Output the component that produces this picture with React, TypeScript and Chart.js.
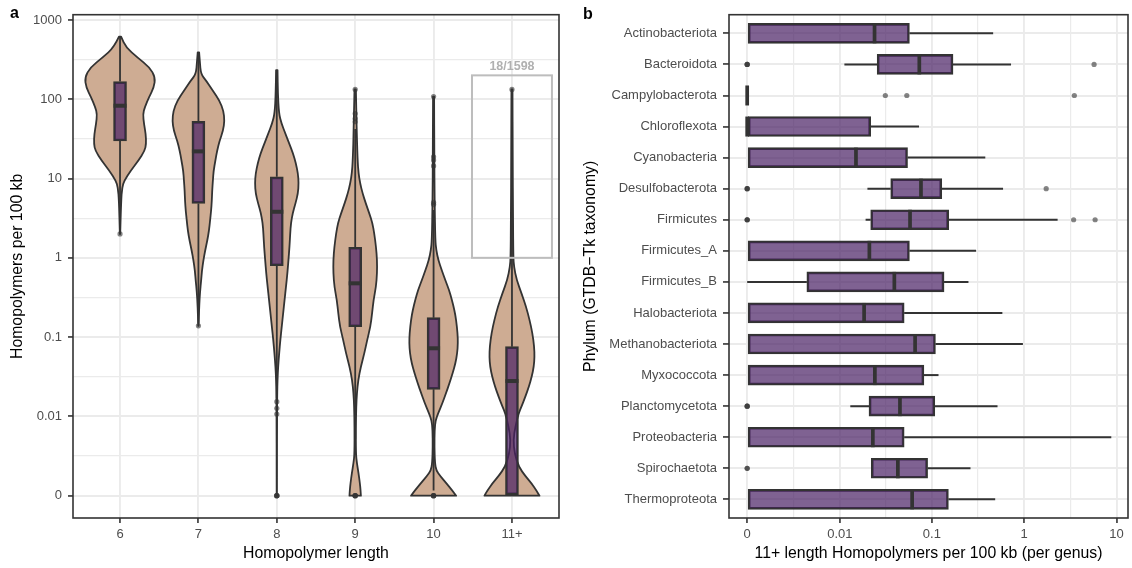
import React, { useEffect, useRef } from 'react';
import { Chart, registerables } from 'chart.js';

Chart.register(...registerables);

const FONT = "'Liberation Sans', Arial, Helvetica, sans-serif";

// ---------------- Panel a : homopolymer counts per length ----------------
const lengthCategories = ['6', '7', '8', '9', '10', '11+'];
const countTickValues = [0, 0.01, 0.1, 1, 10, 100, 1000];
const countTickLabels = ['0', '0.01', '0.1', '1', '10', '100', '1000'];

const boxQ1 = [29.7, 4.86, 0.795, 0.135, 0.0219, 0];
const boxMedian = [82.8, 22.0, 3.81, 0.477, 0.0723, 0.0279];
const boxQ3 = [167, 52.6, 10.5, 1.36, 0.176, 0.0757];
const whiskerLow = [2.3, 0.15, 0.017, 0.005, 0.0003, 0];
const whiskerHigh = [614, 390, 233, 42, 4.0, 45];
const lengthOutliers = [
  [2.0],
  [0.139],
  [0.0153, 0.0126, 0.0106, 0, 0, 0, 0],
  [52, 57, 66, 133, 0, 0, 0, 0],
  [4.7, 5.0, 14.4, 17.1, 18.8, 108, 0, 0, 0, 0],
  [133],
];

// violin profiles: [value, relative density]
const violin6 = [[614, 0.03], [451, 0.17], [337, 0.49], [252, 0.84], [189, 1.0], [141, 0.96], [106, 0.82], [79, 0.7], [65, 0.65], [48.6, 0.68], [36.4, 0.73], [27.2, 0.74], [22.4, 0.7], [16.8, 0.52], [12.5, 0.3], [9.4, 0.12], [7.7, 0.06], [5.2, 0.03], [2.0, 0.005]];
const violin7 = [[390, 0.02], [300, 0.04], [208, 0.07], [171, 0.22], [128, 0.41], [95.7, 0.6], [71.6, 0.71], [53.6, 0.74], [40.1, 0.7], [30, 0.6], [22.4, 0.53], [16.8, 0.48], [12.5, 0.43], [9.4, 0.41], [7.0, 0.39], [5.25, 0.38], [3.93, 0.36], [2.94, 0.33], [2.2, 0.3], [1.64, 0.25], [1.23, 0.19], [0.92, 0.14], [0.69, 0.1], [0.51, 0.076], [0.385, 0.048], [0.238, 0.02], [0.139, 0.005]];
const violin8 = [[233, 0.02], [119, 0.03], [66.4, 0.06], [49.7, 0.13], [37.2, 0.24], [27.8, 0.35], [20.8, 0.46], [15.6, 0.54], [11.6, 0.6], [8.7, 0.62], [6.5, 0.6], [4.86, 0.53], [3.64, 0.45], [2.72, 0.4], [2.04, 0.38], [1.38, 0.36], [0.94, 0.33], [0.637, 0.3], [0.432, 0.26], [0.294, 0.22], [0.2, 0.18], [0.135, 0.14], [0.0919, 0.1], [0.0625, 0.067], [0.0424, 0.038], [0.0288, 0.02], [0.0195, 0.011], [0.0073, 0.006], [0.0025, 0.005], [0, 0.004]];
const violin9 = [[133, 0.02], [45, 0.04], [17.1, 0.067], [11.6, 0.095], [8.7, 0.14], [6.5, 0.21], [4.86, 0.3], [3.64, 0.4], [2.72, 0.49], [2.04, 0.54], [1.38, 0.59], [0.94, 0.62], [0.637, 0.62], [0.432, 0.59], [0.294, 0.52], [0.2, 0.48], [0.135, 0.43], [0.0919, 0.34], [0.0625, 0.26], [0.0424, 0.16], [0.0288, 0.086], [0.0195, 0.048], [0.0132, 0.029], [0.0073, 0.019], [0.0031, 0.019], [0.0022, 0.048], [0.0014, 0.095], [0.00074, 0.133], [0.00033, 0.152], [0, 0.162]];
const violin10 = [[108, 0.015], [20, 0.02], [5, 0.03], [1.67, 0.048], [1.25, 0.076], [0.94, 0.133], [0.7, 0.23], [0.525, 0.33], [0.393, 0.44], [0.294, 0.52], [0.22, 0.59], [0.164, 0.64], [0.112, 0.68], [0.0836, 0.69], [0.0625, 0.67], [0.0468, 0.62], [0.035, 0.54], [0.0261, 0.45], [0.0195, 0.35], [0.0146, 0.25], [0.0109, 0.133], [0.0089, 0.057], [0.0066, 0.029], [0.0039, 0.024], [0.0022, 0.038], [0.0016, 0.076], [0.0012, 0.19], [0.00074, 0.36], [0.00033, 0.52], [0, 0.64]];
const violin11 = [[133, 0.015], [20, 0.02], [3, 0.03], [1.03, 0.038], [0.773, 0.057], [0.525, 0.133], [0.357, 0.27], [0.242, 0.4], [0.164, 0.5], [0.112, 0.58], [0.0757, 0.63], [0.0566, 0.64], [0.0424, 0.62], [0.0316, 0.56], [0.0237, 0.48], [0.0177, 0.38], [0.0132, 0.27], [0.0109, 0.19], [0.0073, 0.095], [0.0048, 0.038], [0.0031, 0.076], [0.0019, 0.19], [0.0012, 0.38], [0.00074, 0.55], [0.00033, 0.69], [0, 0.78]];
const violinProfiles = [violin6, violin7, violin8, violin9, violin10, violin11];

const highlightRange = [1, 200];
const highlightLabel = '18/1598';

// ---------------- Panel b : 11+ homopolymers per phylum ----------------
const phyla = ['Actinobacteriota', 'Bacteroidota', 'Campylobacterota', 'Chloroflexota', 'Cyanobacteria', 'Desulfobacterota', 'Firmicutes', 'Firmicutes_A', 'Firmicutes_B', 'Halobacteriota', 'Methanobacteriota', 'Myxococcota', 'Planctomycetota', 'Proteobacteria', 'Spirochaetota', 'Thermoproteota'];
const phylumLow = [0, 0.0112, 0, 0, 0, 0.02, 0.0191, 0, 0, 0, 0, 0, 0.013, 0, 0.022, 0];
const phylumQ1 = [0, 0.0255, 0, 0, 0, 0.0358, 0.0217, 0, 0.0042, 0, 0, 0, 0.0208, 0, 0.022, 0];
const phylumMedian = [0.0239, 0.0731, 0, 0, 0.015, 0.0762, 0.058, 0.021, 0.0392, 0.0184, 0.0658, 0.0241, 0.0451, 0.0229, 0.0428, 0.0611];
const phylumQ3 = [0.0571, 0.1694, 0, 0.0217, 0.0545, 0.128, 0.152, 0.0571, 0.1355, 0.0501, 0.1093, 0.082, 0.1076, 0.0501, 0.0899, 0.151];
const phylumHigh = [0.461, 0.72, 0, 0.0726, 0.379, 0.59, 2.3, 0.301, 0.249, 0.58, 0.968, 0.118, 0.514, 8.77, 0.262, 0.485];
const phylumOutliers = [
  [], [0, 0, 0, 5.71], [0.0313, 0.0535, 3.49], [], [], [0, 0, 0, 1.73], [0, 0, 0, 3.43, 5.86], [], [], [], [], [], [0, 0, 0], [], [0, 0], [],
];
const rateTickValues = [0, 0.01, 0.1, 1, 10];
const rateTickLabels = ['0', '0.01', '0.1', '1', '10'];

// ---------------- helpers ----------------
const T = (v: number) => Math.asinh(v / 0.002) / Math.LN10; // pseudo-log10 transform

const GRID = '#EBEBEB';
const DARK = '#333333';
const VIOLIN_FILL = '#CEAC93';
const BOX_FILL = 'rgba(72,32,100,0.7)';
const POINT = 'rgba(51,51,51,0.6)';

function buildTicks(values: number[], labels: string[]) {
  const tv = values.map(T);
  const ticks: { value: number; major: boolean; label: string }[] = [];
  tv.forEach((t, i) => {
    ticks.push({ value: t, major: true, label: labels[i] });
    if (i < tv.length - 1) ticks.push({ value: (t + tv[i + 1]) / 2, major: false, label: '' });
  });
  return ticks;
}

function smoothSide(ctx: CanvasRenderingContext2D, pts: number[][], first: boolean) {
  if (first) ctx.moveTo(pts[0][0], pts[0][1]);
  else ctx.lineTo(pts[0][0], pts[0][1]);
  for (let i = 1; i < pts.length - 1; i++) {
    const mx = (pts[i][0] + pts[i + 1][0]) / 2;
    const my = (pts[i][1] + pts[i + 1][1]) / 2;
    ctx.quadraticCurveTo(pts[i][0], pts[i][1], mx, my);
  }
  const l = pts[pts.length - 1];
  ctx.lineTo(l[0], l[1]);
}

const tickFont = { family: FONT, size: 13 };
const titleFont = { family: FONT, size: 15.8 };

function gridOpts(majorW: number, minorW: number, tickLength = 5) {
  return {
    offset: false,
    color: GRID,
    lineWidth: (c: any) => (c.tick && c.tick.major === false ? minorW : majorW),
    tickColor: (c: any) => (c.tick && c.tick.major === false ? 'rgba(0,0,0,0)' : DARK),
    tickWidth: 1.6,
    tickLength,
    drawTicks: true,
  };
}

const panelAPlugin = {
  id: 'panelA',
  beforeDatasetsDraw(chart: any) {
    const { ctx, scales } = chart;
    const x = scales.x, y = scales.y;
    const unit = x.getPixelForValue(2) - x.getPixelForValue(1);
    ctx.save();
    violinProfiles.forEach((prof, i) => {
      const cx = x.getPixelForValue(i + 1);
      const pts = prof.map(([v, d]) => [d * 0.45 * unit, y.getPixelForValue(T(v))]);
      ctx.beginPath();
      smoothSide(ctx, pts.map(([w, py]) => [cx - w, py]), true);
      smoothSide(ctx, pts.slice().reverse().map(([w, py]) => [cx + w, py]), false);
      ctx.closePath();
      ctx.fillStyle = VIOLIN_FILL;
      ctx.fill();
      ctx.lineWidth = 1.8;
      ctx.lineJoin = 'round';
      ctx.strokeStyle = DARK;
      ctx.stroke();
    });
    ctx.lineWidth = 1.8;
    ctx.strokeStyle = DARK;
    lengthCategories.forEach((_, i) => {
      const cx = x.getPixelForValue(i + 1);
      ctx.beginPath();
      ctx.moveTo(cx, y.getPixelForValue(T(whiskerHigh[i])));
      ctx.lineTo(cx, y.getPixelForValue(T(boxQ3[i])));
      ctx.moveTo(cx, y.getPixelForValue(T(boxQ1[i])));
      ctx.lineTo(cx, y.getPixelForValue(T(whiskerLow[i])));
      ctx.stroke();
    });
    ctx.restore();
  },
  afterDatasetsDraw(chart: any) {
    const { ctx, scales, chartArea } = chart;
    const x = scales.x, y = scales.y;
    ctx.save();
    ctx.strokeStyle = DARK;
    ctx.lineWidth = 4;
    lengthCategories.forEach((_, i) => {
      const cx = x.getPixelForValue(i + 1);
      const my = y.getPixelForValue(T(boxMedian[i]));
      ctx.beginPath();
      ctx.moveTo(cx - 6.5, my);
      ctx.lineTo(cx + 6.5, my);
      ctx.stroke();
    });
    // highlight box
    const last = lengthCategories.length;
    const x0 = x.getPixelForValue(last - 0.51);
    const x1 = x.getPixelForValue(last + 0.51);
    const y0 = y.getPixelForValue(T(highlightRange[1]));
    const y1 = y.getPixelForValue(T(highlightRange[0]));
    ctx.strokeStyle = '#BDBDBD';
    ctx.lineWidth = 2;
    ctx.strokeRect(x0, y0, x1 - x0, y1 - y0);
    ctx.fillStyle = '#B0B0B0';
    ctx.font = `bold 12.5px ${FONT}`;
    ctx.textAlign = 'center';
    ctx.textBaseline = 'bottom';
    ctx.fillText(highlightLabel, x.getPixelForValue(last), y0 - 3);
    // panel border
    ctx.strokeStyle = DARK;
    ctx.lineWidth = 1.6;
    ctx.strokeRect(chartArea.left, chartArea.top, chartArea.right - chartArea.left, chartArea.bottom - chartArea.top);
    ctx.fillStyle = '#000';
    ctx.font = `bold 16px ${FONT}`;
    ctx.textAlign = 'left';
    ctx.textBaseline = 'alphabetic';
    ctx.fillText('a', 10, 18);
    ctx.restore();
  },
};

const panelBPlugin = {
  id: 'panelB',
  beforeDatasetsDraw(chart: any) {
    const { ctx, scales } = chart;
    const x = scales.x, y = scales.y;
    ctx.save();
    ctx.strokeStyle = DARK;
    ctx.lineWidth = 2;
    phyla.forEach((_, i) => {
      const cy = y.getPixelForValue(i);
      ctx.beginPath();
      ctx.moveTo(x.getPixelForValue(T(phylumLow[i])), cy);
      ctx.lineTo(x.getPixelForValue(T(phylumQ1[i])), cy);
      ctx.moveTo(x.getPixelForValue(T(phylumQ3[i])), cy);
      ctx.lineTo(x.getPixelForValue(T(phylumHigh[i])), cy);
      ctx.stroke();
    });
    ctx.restore();
  },
  afterDatasetsDraw(chart: any) {
    const { ctx, scales, chartArea } = chart;
    const x = scales.x, y = scales.y;
    ctx.save();
    ctx.strokeStyle = DARK;
    ctx.lineWidth = 3.7;
    phyla.forEach((_, i) => {
      const cy = y.getPixelForValue(i);
      const mx = x.getPixelForValue(T(phylumMedian[i]));
      ctx.beginPath();
      ctx.moveTo(mx, cy - 10);
      ctx.lineTo(mx, cy + 10);
      ctx.stroke();
    });
    ctx.strokeStyle = DARK;
    ctx.lineWidth = 1.6;
    ctx.strokeRect(chartArea.left, chartArea.top, chartArea.right - chartArea.left, chartArea.bottom - chartArea.top);
    ctx.fillStyle = '#000';
    ctx.font = `bold 16px ${FONT}`;
    ctx.textAlign = 'left';
    ctx.textBaseline = 'alphabetic';
    ctx.fillText('b', 17, 19);
    ctx.restore();
  },
};

export default function App() {
  const leftRef = useRef<HTMLCanvasElement>(null);
  const rightRef = useRef<HTMLCanvasElement>(null);

  useEffect(() => {
    const countTicks = buildTicks(countTickValues, countTickLabels);
    const rateTicks = buildTicks(rateTickValues, rateTickLabels);

    const outA: { x: number; y: number }[] = [];
    lengthOutliers.forEach((arr, i) => arr.forEach((v) => outA.push({ x: i + 1, y: T(v) })));
    const boxA = lengthCategories.map((_, i) => ({ x: i + 1, y: [T(boxQ1[i]), T(boxQ3[i])] }));

    const left = new Chart(leftRef.current!, {
      type: 'bar',
      data: {
        datasets: [
          { type: 'scatter', data: outA, pointRadius: 2.6, pointBackgroundColor: POINT, pointBorderWidth: 0, order: 0 } as any,
          { type: 'bar', data: boxA as any, backgroundColor: BOX_FILL, borderColor: DARK, borderWidth: 2, borderSkipped: false, barThickness: 13, order: 1 } as any,
        ],
      },
      options: {
        responsive: false,
        animation: false,
        devicePixelRatio: 1,
        events: [],
        layout: { padding: { top: 14.7, right: 7, bottom: 0, left: 0 } },
        plugins: { legend: { display: false }, tooltip: { enabled: false } },
        scales: {
          x: {
            type: 'linear',
            offset: false,
            min: 0.4,
            max: 6.6,
            afterBuildTicks: (s: any) => { s.ticks = lengthCategories.map((_, i) => ({ value: i + 1, major: true })); },
            afterFit: (s: any) => { s.height = 50; },
            ticks: { autoSkip: false, maxRotation: 0, color: '#4D4D4D', font: tickFont, padding: 4, callback: (_v: any, i: number) => lengthCategories[i] },
            grid: gridOpts(1.9, 1.2) as any,
            border: { display: false },
            title: { display: true, text: 'Homopolymer length', color: '#000', font: titleFont, padding: { top: 0, bottom: 4.4 } },
          },
          y: {
            type: 'linear',
            offset: false,
            min: -0.281,
            max: 6.066,
            afterBuildTicks: (s: any) => { s.ticks = countTicks.map((t) => ({ value: t.value, major: t.major })); },
            afterFit: (s: any) => { s.width = 73; },
            ticks: { autoSkip: false, color: '#4D4D4D', font: tickFont, padding: 6, callback: (_v: any, i: number) => countTicks[i].label },
            grid: gridOpts(1.9, 1.2) as any,
            border: { display: false },
            title: { display: true, text: 'Homopolymers per 100 kb', color: '#000', font: titleFont, padding: { top: 8.4, bottom: 0 } },
          },
        },
      } as any,
      plugins: [panelAPlugin],
    });

    const outB: { x: number; y: number }[] = [];
    phylumOutliers.forEach((arr, i) => arr.forEach((v) => outB.push({ x: T(v), y: i })));
    const boxB = phyla.map((_, i) => ({ y: i, x: [T(phylumQ1[i]), T(phylumQ3[i])] }));

    const right = new Chart(rightRef.current!, {
      type: 'bar',
      data: {
        datasets: [
          { type: 'scatter', data: outB, pointRadius: 2.6, pointBackgroundColor: POINT, pointBorderWidth: 0, order: 0 } as any,
          { type: 'bar', indexAxis: 'y', data: boxB as any, backgroundColor: BOX_FILL, borderColor: DARK, borderWidth: 2, borderSkipped: false, barThickness: 20, order: 1 } as any,
        ],
      },
      options: {
        responsive: false,
        animation: false,
        devicePixelRatio: 1,
        events: [],
        layout: { padding: { top: 14.7, right: 1, bottom: 0, left: 0 } },
        plugins: { legend: { display: false }, tooltip: { enabled: false } },
        scales: {
          x: {
            type: 'linear',
            offset: false,
            min: -0.197,
            max: 4.124,
            afterBuildTicks: (s: any) => { s.ticks = rateTicks.map((t) => ({ value: t.value, major: t.major })); },
            afterFit: (s: any) => { s.height = 50; },
            ticks: { autoSkip: false, maxRotation: 0, color: '#4D4D4D', font: tickFont, padding: 4, callback: (_v: any, i: number) => rateTicks[i].label },
            grid: gridOpts(1.9, 1.2) as any,
            border: { display: false },
            title: { display: true, text: '11+ length Homopolymers per 100 kb (per genus)', color: '#000', font: titleFont, padding: { top: 0, bottom: 4.4 } },
          },
          y: {
            type: 'linear',
            offset: false,
            reverse: true,
            min: -0.6,
            max: phyla.length - 1 + 0.6,
            afterBuildTicks: (s: any) => { s.ticks = phyla.map((_, i) => ({ value: i, major: true })); },
            afterFit: (s: any) => { s.width = 163; },
            ticks: { autoSkip: false, color: '#4D4D4D', font: tickFont, padding: 6, callback: (_v: any, i: number) => phyla[i] },
            grid: gridOpts(1.9, 1.2, 6) as any,
            border: { display: false },
            title: { display: true, text: 'Phylum (GTDB−Tk taxonomy)', color: '#000', font: titleFont, padding: { top: 15.1, bottom: 0 } },
          },
        },
      } as any,
      plugins: [panelBPlugin],
    });

    return () => {
      left.destroy();
      right.destroy();
    };
  }, []);

  return (
    <div style={{ position: 'fixed', left: 0, top: 0, width: 1132, height: 568, background: '#fff' }}>
      <div style={{ position: 'absolute', left: 0, top: 0, width: 566, height: 568 }}>
        <canvas ref={leftRef} width={566} height={568} style={{ display: 'block', width: 566, height: 568 }} />
      </div>
      <div style={{ position: 'absolute', left: 566, top: 0, width: 566, height: 568 }}>
        <canvas ref={rightRef} width={566} height={568} style={{ display: 'block', width: 566, height: 568 }} />
      </div>
    </div>
  );
}
